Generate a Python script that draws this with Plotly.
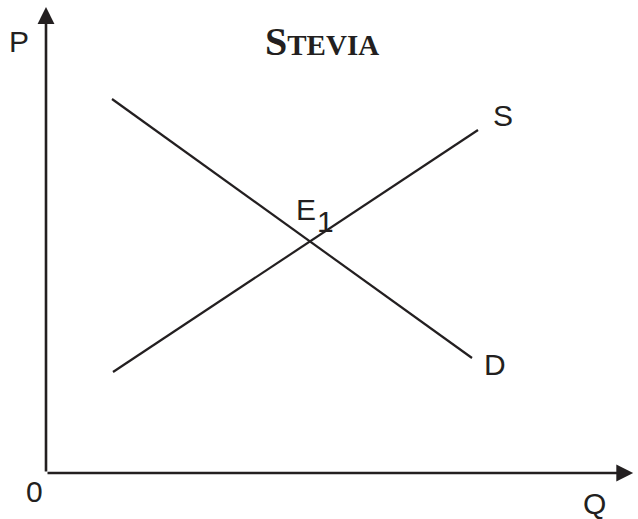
import plotly.graph_objects as go

# quantity / price values of the two curves (chart units, origin at the axes corner)
supply_q = [1.675, 10.8]
supply_p = [2.525, 8.575]
demand_q = [1.65, 10.65]
demand_p = [9.35, 2.875]

# axis extents (where the arrows end)
q_max = 14.68
p_max = 11.65

ink = "#231f20"
label_font = dict(family="Liberation Sans, Arial, sans-serif", size=30, color=ink)

fig = go.Figure()
fig.add_trace(go.Scatter(x=supply_q, y=supply_p, mode="lines",
                         line=dict(color=ink, width=2.2), hoverinfo="skip"))
fig.add_trace(go.Scatter(x=demand_q, y=demand_p, mode="lines",
                         line=dict(color=ink, width=2.2), hoverinfo="skip"))

# axes with arrowheads
for ax_x, ax_y in [(q_max, 0), (0, p_max)]:
    fig.add_annotation(x=ax_x, y=ax_y, ax=0, ay=0, xref="x", yref="y", axref="x", ayref="y",
                       showarrow=True, arrowhead=2, arrowsize=1.3, arrowwidth=2.6,
                       arrowcolor=ink, text="")

labels = [
    ("P", -0.675, 10.8),
    ("0", -0.29, -0.45),
    ("Q", 13.72, -0.75),
    ("S", 11.43, 8.95),
    ("D", 11.22, 2.72),
    ("E", 6.5, 6.6),
    ("1", 6.975, 6.28),
]
for txt, lx, ly in labels:
    fig.add_annotation(x=lx, y=ly, text=txt, showarrow=False, font=label_font,
                       xanchor="center", yanchor="middle")

fig.add_annotation(x=6.9, y=10.8, showarrow=False, xanchor="center", yanchor="middle",
                   text="<b>S<span style='font-size:29px'>TEVIA</span></b>",
                   font=dict(family="Liberation Serif, Times New Roman, serif", size=40, color=ink))

fig.update_layout(
    width=638, height=519,
    margin=dict(l=0, r=0, t=0, b=0),
    paper_bgcolor="white", plot_bgcolor="white",
    showlegend=False,
    xaxis=dict(range=[-46 / 40, 592 / 40], visible=False, fixedrange=True),
    yaxis=dict(range=[-46 / 40, 473 / 40], visible=False, fixedrange=True),
)

fig.write_html("out.html", config={"displayModeBar": False},
               post_script="document.body.style.margin='0';")
